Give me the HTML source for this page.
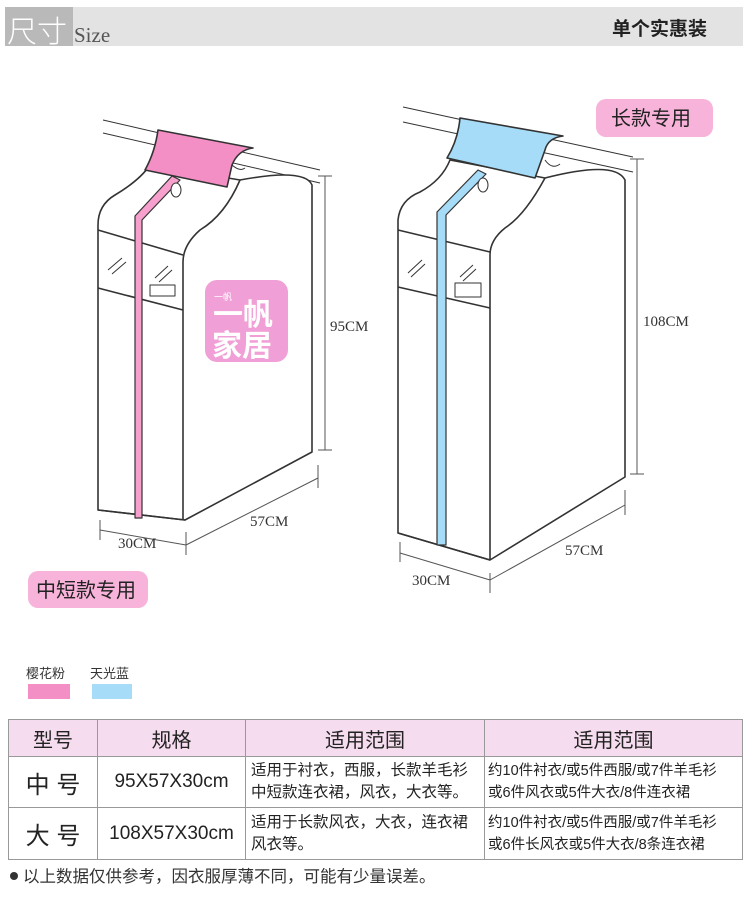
<!DOCTYPE html>
<html><head><meta charset="utf-8"><style>
body{margin:0;width:750px;height:909px;background:#fff;overflow:hidden;font-family:"Liberation Sans","Noto Sans CJK SC",sans-serif;}
svg{position:absolute;left:0;top:0}
table{position:absolute;left:8px;top:719px;border-collapse:collapse;width:735px;}
td{border:1px solid #999;text-align:center;color:#222;padding:0;white-space:nowrap}
</style></head><body>
<svg width="750" height="909" viewBox="0 0 750 909" font-family="Liberation Serif, serif">
<rect x="5" y="7" width="738" height="39" fill="#e3e3e3"/>
<rect x="5" y="7" width="68" height="39" fill="#b9b9b9"/>
<text x="7" y="42" font-size="30" fill="#fff" font-family="Noto Sans CJK SC, sans-serif" font-weight="300">尺寸</text>
<text x="74" y="42" font-size="21" fill="#555">Size</text>
<text x="612" y="35" font-size="19" font-weight="bold" fill="#222" font-family="Noto Sans CJK SC, sans-serif">单个实惠装</text>

<g stroke="#333" stroke-width="1.6" fill="#fff" stroke-linejoin="round">
<line x1="103" y1="120" x2="320" y2="170" stroke-width="1"/>
<line x1="103" y1="133" x2="320" y2="183" stroke-width="1"/>
<path d="M98,510 L98,225 Q98,205 115,195 Q140,180 150,165 L240,180 Q305,168 312,185 L312,452 L185,520 Z"/>
<path d="M240,180 Q225,215 200,230 Q183,245 183,262 L183,520" fill="none"/>
<path d="M98,230 L183,255 M98,288 L183,310 M98,510 L185,520"/>
<path d="M158,130 L253,148 Q238,150 232,165 L227,187 L145,170 Q155,152 158,130Z" fill="#f38fc4"/>
<path d="M232,165 Q240,172 245,168" fill="none" stroke-width="1"/>
<path d="M172,176 L180,180 L142,220 L142,518 L135,518 L135,216 Z" fill="#f7a0ce" stroke-width="1.2"/>
<ellipse cx="176" cy="190" rx="5" ry="7" stroke-width="1"/>
<path d="M108,270 L122,258 M112,274 L126,262 M155,278 L168,266 M159,282 L172,270" stroke-width="1" fill="none"/>
<rect x="150" y="285" width="25" height="11" stroke-width="1"/>
<line x1="403" y1="107" x2="633" y2="157" stroke-width="1"/>
<line x1="403" y1="122" x2="633" y2="172" stroke-width="1"/>
<path d="M398,533 L398,220 Q400,200 420,192 Q442,180 450,160 L545,178 Q615,160 625,180 L625,477 L490,560 Z"/>
<path d="M545,178 Q525,215 505,228 Q490,240 490,255 L490,560" fill="none"/>
<path d="M398,230 L490,252 M398,287 L490,308 M398,533 L490,560"/>
<path d="M460,118 L563,136 Q548,138 545,150 L535,178 L447,158 Q458,140 460,118Z" fill="#a6dcf7"/>
<path d="M545,160 Q552,170 560,164" fill="none" stroke-width="1"/>
<path d="M478,170 L486,174 L446,215 L446,545 L437,545 L437,212 Z" fill="#a6dcf7" stroke-width="1.2"/>
<ellipse cx="483" cy="185" rx="5" ry="7" stroke-width="1"/>
<path d="M408,273 L422,260 M411,277 L425,264 M460,277 L473,265 M463,281 L476,269" stroke-width="1" fill="none"/>
<rect x="455" y="283" width="26" height="14" stroke-width="1"/>
</g>
<g stroke="#555" stroke-width="1" fill="none">
<path d="M325,176 L325,450 M318,176 L332,176 M318,450 L332,450"/>
<path d="M637,159 L637,474 M630,159 L644,159 M630,474 L644,474"/>
<path d="M100,520 L100,540 M186,532 L186,555 M100,530 L186,545 M186,545 L318,478 M318,465 L318,488"/>
<path d="M400,542 L400,562 M490,573 L490,593 M400,553 L490,580 M490,580 L625,505 M625,490 L625,515"/>
</g>
<g font-size="15" fill="#333">
<text x="330" y="331">95CM</text>
<text x="643" y="326">108CM</text>
<text x="118" y="548">30CM</text>
<text x="250" y="526">57CM</text>
<text x="412" y="585">30CM</text>
<text x="565" y="555">57CM</text>
</g>
<rect x="205" y="280" width="83" height="82" rx="12" fill="#f0a0d6"/>
<text x="214" y="300" font-size="9" fill="#fff" font-family="Noto Sans CJK SC,sans-serif">一帆</text>
<text x="213" y="325" font-size="30" fill="#fff" font-weight="bold" font-family="Noto Sans CJK SC,sans-serif">一帆</text>
<text x="212" y="356" font-size="30" fill="#fff" font-weight="bold" font-family="Noto Sans CJK SC,sans-serif">家居</text>
<rect x="28" y="571" width="120" height="37" rx="10" fill="#f7b3d9"/>
<text x="36" y="597" font-size="20" fill="#222" font-family="Noto Sans CJK SC,sans-serif">中短款专用</text>
<rect x="596" y="99" width="117" height="38" rx="10" fill="#f7b3d9"/>
<text x="611" y="125" font-size="20" fill="#222" font-family="Noto Sans CJK SC,sans-serif">长款专用</text>
<g font-size="13" fill="#333" font-family="Noto Sans CJK SC,sans-serif">
<text x="26" y="678">樱花粉</text><text x="90" y="678">天光蓝</text>
</g>
<circle cx="14" cy="876" r="4" fill="#333"/>
<text x="23" y="882" font-size="16.5" fill="#333" font-family="Noto Sans CJK SC,sans-serif">以上数据仅供参考，因衣服厚薄不同，可能有少量误差。</text>
<rect x="28" y="684" width="42" height="15" fill="#f38fc4"/>
<rect x="92" y="684" width="40" height="15" fill="#a6dcf7"/>
</svg>
<table>
<tr style="height:37px;background:#f6dcef;font-size:20px"><td style="width:88px">型号</td><td style="width:147px">规格</td><td style="width:238px">适用范围</td><td>适用范围</td></tr>
<tr style="height:51px"><td style="font-size:24px">中 号</td><td style="font-size:19px">95X57X30cm</td><td style="font-size:15.5px;text-align:left;padding-left:5px;line-height:22px">适用于衬衣，西服，长款羊毛衫<br>中短款连衣裙，风衣，大衣等。</td><td style="font-size:14.5px;text-align:left;padding-left:3px;line-height:22px">约10件衬衣/或5件西服/或7件羊毛衫<br>或6件风衣或5件大衣/8件连衣裙</td></tr>
<tr style="height:52px"><td style="font-size:24px">大 号</td><td style="font-size:19px">108X57X30cm</td><td style="font-size:15.5px;text-align:left;padding-left:5px;line-height:22px">适用于长款风衣，大衣，连衣裙<br>风衣等。</td><td style="font-size:14.5px;text-align:left;padding-left:3px;line-height:22px">约10件衬衣/或5件西服/或7件羊毛衫<br>或6件长风衣或5件大衣/8条连衣裙</td></tr>
</table>
</body></html>
